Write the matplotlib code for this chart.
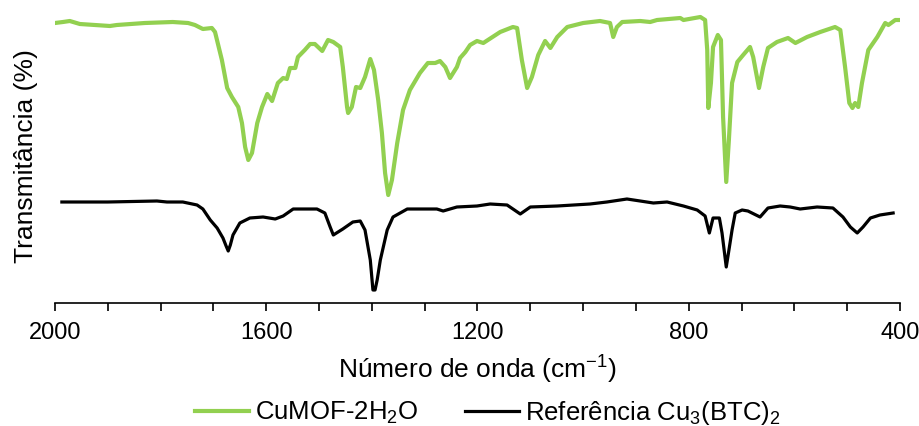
import numpy as np
import matplotlib
matplotlib.use('Agg')
import matplotlib.pyplot as plt
from matplotlib.ticker import MultipleLocator

plt.rcParams['font.family'] = ['Liberation Sans', 'DejaVu Sans']
plt.rcParams['mathtext.default'] = 'regular'

# Espectro CuMOF-2H2O (numero de onda, transmitancia arbitraria)
wn_mof = [2000, 1985, 1972, 1953, 1925, 1896, 1883, 1830, 1777, 1748, 1735, 1720,
          1703, 1697, 1684, 1674, 1665, 1653, 1646, 1640, 1634, 1627, 1617, 1608,
          1598, 1589, 1578, 1568, 1561, 1555, 1545, 1540, 1527, 1517, 1508, 1494,
          1483, 1473, 1460, 1455, 1447, 1445, 1438, 1430, 1422, 1413, 1403, 1396,
          1388, 1381, 1375, 1369, 1362, 1352, 1341, 1328, 1309, 1294, 1280, 1271,
          1261, 1252, 1239, 1233, 1223, 1214, 1201, 1189, 1157, 1133, 1125, 1116,
          1106, 1097, 1085, 1072, 1062, 1049, 1030, 1000, 968, 949, 943, 936,
          926, 892, 873, 860, 816, 810, 778, 769, 765, 763, 758, 754,
          745, 739, 735, 729, 724, 718, 708, 697, 684, 678, 667, 659,
          650, 633, 612, 598, 576, 551, 523, 513, 504, 496, 490, 485,
          479, 472, 460, 443, 428, 422, 409, 403]
t_mof = [277, 278, 279, 276, 275, 274, 275, 277, 278, 277, 275, 271,
         272, 268, 240, 212, 203, 193, 177, 153, 140, 147, 177, 193,
         206, 199, 217, 222, 221, 232, 232, 243, 250, 256, 256, 249,
         260, 258, 253, 233, 193, 187, 193, 213, 212, 223, 241, 230,
         200, 167, 127, 105, 120, 157, 190, 210, 227, 237, 237, 239,
         233, 222, 233, 242, 248, 255, 259, 257, 268, 273, 272, 240,
         212, 223, 245, 259, 252, 263, 273, 277, 279, 277, 263, 273,
         278, 279, 278, 280, 282, 280, 283, 280, 250, 192, 217, 253,
         265, 260, 183, 118, 160, 217, 238, 245, 253, 243, 212, 233,
         252, 258, 262, 257, 263, 268, 273, 270, 233, 197, 192, 197,
         193, 217, 250, 263, 277, 275, 280, 280]

# Referencia Cu3(BTC)2
wn_ref = [1987, 1900, 1807, 1788, 1758, 1731, 1720, 1706, 1693, 1682, 1676, 1672,
          1668, 1663, 1650, 1631, 1606, 1583, 1568, 1549, 1504, 1489, 1479, 1473,
          1455, 1436, 1422, 1413, 1403, 1398, 1394, 1390, 1384, 1371, 1360, 1333,
          1277, 1265, 1239, 1201, 1176, 1144, 1119, 1100, 1049, 987, 955, 917,
          892, 867, 841, 810, 784, 769, 761, 754, 742, 737, 729, 723,
          718, 712, 699, 688, 665, 650, 627, 608, 589, 557, 527, 508,
          494, 481, 470, 456, 438, 413]
t_ref = [98, 98, 99, 98, 98, 95, 91, 80, 72, 62, 54, 49,
         55, 65, 77, 82, 83, 81, 84, 91, 91, 87, 73, 65,
         71, 78, 79, 70, 40, 10, 10, 20, 40, 70, 83, 91,
         91, 89, 93, 94, 96, 95, 86, 93, 94, 96, 98, 101,
         99, 97, 98, 94, 90, 84, 67, 82, 82, 67, 33, 53,
         70, 87, 90, 89, 83, 92, 94, 93, 91, 93, 92, 83,
         73, 67, 73, 82, 85, 87]

fig = plt.figure(figsize=(9.2, 4.26), dpi=100)
ax = fig.add_axes([55 / 920, 1 - 303 / 426, 845 / 920, 293 / 426])

ax.plot(wn_mof, t_mof, color='#92D050', lw=3, solid_joinstyle='round',
        label='CuMOF-2H$_2$O')
ax.plot(wn_ref, t_ref, color='black', lw=2.3, solid_joinstyle='round',
        label='Referência Cu$_3$(BTC)$_2$')

ax.set_xlim(2000, 400)
ax.set_ylim(-3, 290)
ax.xaxis.set_major_locator(MultipleLocator(400))
ax.xaxis.set_minor_locator(MultipleLocator(100))
ax.tick_params(axis='x', which='both', direction='out', length=6, width=1.2,
               labelsize=17, pad=8)
ax.set_yticks([])
for s in ['top', 'right', 'left']:
    ax.spines[s].set_visible(False)
ax.spines['bottom'].set_linewidth(1.2)

ax.set_xlabel('Número de onda (cm$^{-1}$)', fontsize=19, labelpad=7)
ax.set_ylabel('Transmitância (%)', fontsize=19, labelpad=12)

fig.legend(loc='center', bbox_to_anchor=(0.53, 0.03), ncol=2, frameon=False,
           fontsize=18.5, handlelength=2.1, handletextpad=0.25, columnspacing=1.8)

fig.savefig('out.png', dpi=100)
